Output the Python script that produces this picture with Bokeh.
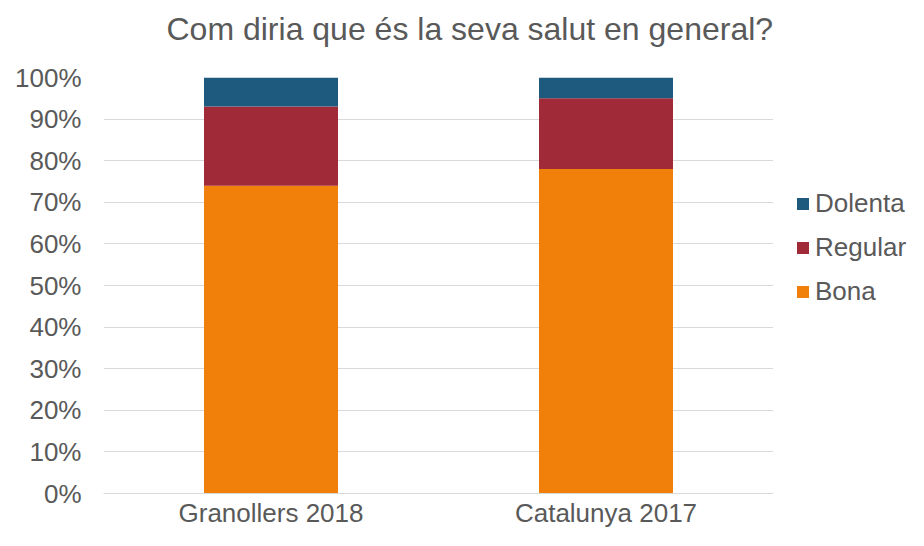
from bokeh.plotting import figure
from bokeh.layouts import row
from bokeh.models import (FactorRange, Range1d, FixedTicker, PrintfTickFormatter,
                          Legend, LegendItem, ColumnDataSource, Title)
from bokeh.embed import file_html
from bokeh.resources import INLINE

categories = ["Granollers 2018", "Catalunya 2017"]
bona = [74, 78]
regular = [19, 17]
dolenta = [7, 5]
series = ["Bona", "Regular", "Dolenta"]
colors = ["#F0800A", "#A02A38", "#1E5A7D"]
yticks = [0, 10, 20, 30, 40, 50, 60, 70, 80, 90, 100]
title_text = "Com diria que és la seva salut en general?"

FONT = "Liberation Sans"
TXT = "#595959"

src = ColumnDataSource(dict(cat=categories, Bona=bona, Regular=regular, Dolenta=dolenta))

p = figure(width=773, height=530, output_backend="svg", toolbar_location=None,
           x_range=FactorRange(*categories), y_range=Range1d(0, 100),
           min_border_left=103, min_border_right=0, min_border_top=77, min_border_bottom=34)

renderers = p.vbar_stack(series, x="cat", width=0.4, source=src, color=colors, line_color=None)

# spacer between the title and the plot area, then the title itself
spacer = Title(text="\u00a0", text_font_size="2px", standoff=27)
main_title = Title(text=title_text, align="left", offset=63, standoff=0,
                   text_font=FONT, text_font_size="32px", text_font_style="normal",
                   text_color=TXT)
p.add_layout(spacer, "above")
p.add_layout(main_title, "above")

p.outline_line_color = None
p.xgrid.grid_line_color = None
p.ygrid.grid_line_color = "#D9D9D9"
p.ygrid.grid_line_width = 1

p.yaxis.ticker = FixedTicker(ticks=yticks)
p.yaxis.formatter = PrintfTickFormatter(format="%d%%")
p.yaxis.axis_line_color = None
p.yaxis.major_tick_line_color = None
p.yaxis.minor_tick_line_color = None
p.yaxis.major_tick_out = 0
p.yaxis.major_label_standoff = 22

p.xaxis.axis_line_color = "#D9D9D9"
p.xaxis.major_tick_line_color = None
p.xaxis.major_tick_out = 0
p.xaxis.major_label_standoff = 4

for ax in (p.xaxis, p.yaxis):
    ax.major_label_text_font = FONT
    ax.major_label_text_font_size = "26px"
    ax.major_label_text_color = TXT

# Legend panel: a separate figure holding swatches in the series colours
pl = figure(width=135, height=530, output_backend="svg", toolbar_location=None,
            x_axis_location=None, y_axis_location=None, min_border=0,
            x_range=Range1d(0, 1), y_range=Range1d(0, 1))
pl.outline_line_color = None
pl.grid.visible = False
swatches = [pl.vbar(x=[0], top=[0], width=0, color=c, line_color=None) for c in colors]

items = [LegendItem(label=s, renderers=[r], index=0) for s, r in zip(series, swatches)][::-1]
legend = Legend(items=items, location=(22, 186), orientation="vertical",
                padding=0, margin=0, border_line_color=None, background_fill_alpha=0,
                glyph_width=15, glyph_height=15, label_standoff=5,
                label_height=30, spacing=13,
                label_text_font=FONT, label_text_font_size="26px", label_text_color=TXT)
pl.add_layout(legend)

layout = row(p, pl)
open("out.html", "w").write(file_html(layout, INLINE))
